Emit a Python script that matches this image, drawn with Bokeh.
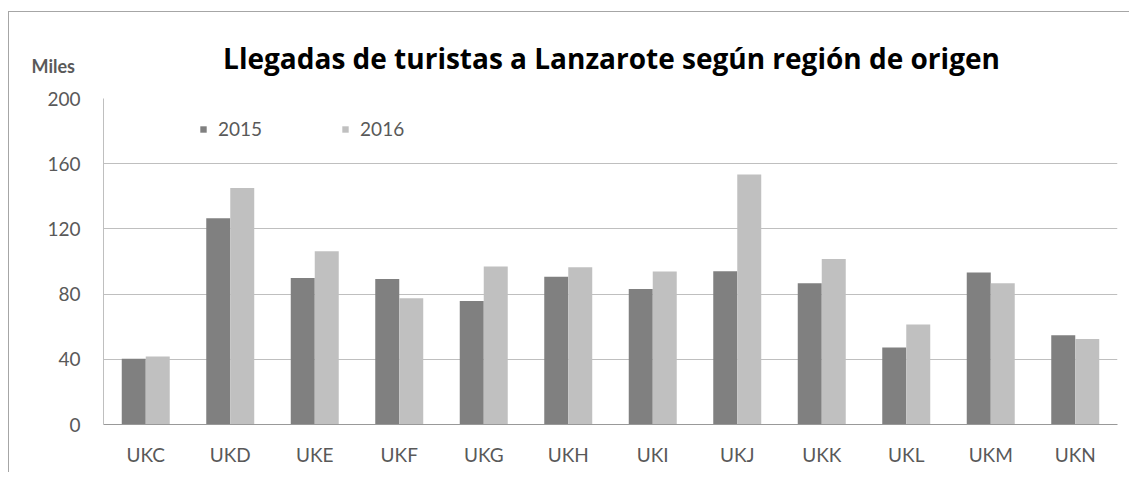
from bokeh.plotting import figure
from bokeh.models import ColumnDataSource, Range1d, FixedTicker, Label, Legend, LegendItem
from bokeh.transform import dodge
from bokeh.embed import file_html
from bokeh.resources import INLINE

categories = ["UKC", "UKD", "UKE", "UKF", "UKG", "UKH", "UKI", "UKJ", "UKK", "UKL", "UKM", "UKN"]
v2015 = [40.3, 126.5, 89.9, 89.3, 75.8, 90.7, 83.2, 94.0, 86.6, 47.2, 93.2, 54.8]
v2016 = [41.7, 145.1, 106.3, 77.5, 96.9, 96.5, 93.8, 153.3, 101.6, 61.3, 86.6, 52.5]
yticks = [0, 40, 80, 120, 160, 200]
title_text = "Llegadas de turistas a Lanzarote según región de origen"
unit_text = "Miles"

FONT = "Lato"
TFONT = "Open Sans"
GREY_TXT = "#595959"

xpos = list(range(1, len(categories) + 1))
src = ColumnDataSource(dict(x=xpos, v2015=v2015, v2016=v2016))

p = figure(
    frame_width=1014, frame_height=326,
    x_range=Range1d(0.5, len(categories) + 0.5), y_range=Range1d(0, 200),
    output_backend="svg", toolbar_location=None,
    min_border_left=94, min_border_top=86, min_border_right=12, min_border_bottom=48,
)
p.styles = {"border-left": "1px solid #a6a6a6", "border-top": "1px solid #a6a6a6",
            "margin-top": "11px", "margin-left": "8px"}
p.outline_line_color = None
p.background_fill_color = "white"
p.border_fill_color = "white"

bw = 0.284
r1 = p.vbar(x=dodge("x", -bw / 2, range=p.x_range), top="v2015", width=bw, source=src,
            fill_color="#808080", line_color=None)
r2 = p.vbar(x=dodge("x", bw / 2, range=p.x_range), top="v2016", width=bw, source=src,
            fill_color="#c0c0c0", line_color=None)

# axes
p.xaxis.ticker = FixedTicker(ticks=xpos)
p.xaxis.major_label_overrides = {i: c for i, c in zip(xpos, categories)}
p.yaxis.ticker = FixedTicker(ticks=yticks)
for ax in (p.xaxis[0], p.yaxis[0]):
    ax.major_tick_line_color = None
    ax.minor_tick_line_color = None
    ax.major_label_text_font = FONT
    ax.major_label_text_font_size = "19px"
    ax.major_label_text_color = GREY_TXT
p.xaxis.axis_line_color = "#999999"
p.xaxis.major_label_standoff = 12
p.yaxis.axis_line_color = "#bfbfbf"
p.yaxis.major_label_standoff = 17

p.xgrid.grid_line_color = None
p.ygrid.grid_line_color = "#bfbfbf"
p.ygrid.grid_line_width = 1

# title and unit label, in the side panel so they are not clipped to the frame
p.add_layout(Label(x=94 + 507, y=44, x_units="canvas", y_units="canvas", text=title_text,
                   text_align="center", text_baseline="alphabetic", text_font=TFONT,
                   text_font_style="bold", text_font_size="28px", text_color="black"), "above")
p.add_layout(Label(x=21, y=52, x_units="canvas", y_units="canvas", text=unit_text,
                   text_align="left", text_baseline="alphabetic", text_font=FONT,
                   text_font_style="bold", text_font_size="18px", text_color=GREY_TXT), "above")

legend = Legend(items=[LegendItem(label="2015", renderers=[r1]), LegendItem(label="2016", renderers=[r2])],
                orientation="horizontal", location=(96, 284), margin=0, padding=0,
                glyph_width=8, glyph_height=8, label_standoff=11, spacing=79,
                label_text_font=FONT, label_text_font_size="19px", label_text_color=GREY_TXT,
                border_line_color=None, background_fill_alpha=0)
p.add_layout(legend)

open("out.html", "w").write(file_html(p, INLINE))
